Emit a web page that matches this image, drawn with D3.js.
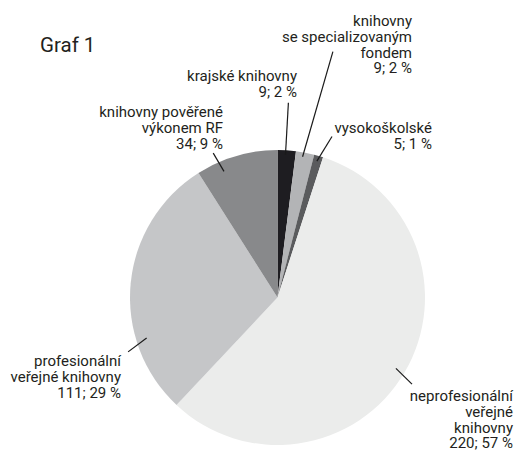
<!DOCTYPE html>
<html>
<head>
<meta charset="utf-8">
<script src="https://cdn.jsdelivr.net/npm/d3@7"></script>
<style>
  body { margin: 0; background: #fff; }
  svg { display: block; font-family: Roboto, "Noto Sans", sans-serif; }
</style>
</head>
<body>
<div id="chart"></div>
<script>
// data, clockwise from 12 o'clock
const categories = [
    "krajské knihovny",
    "knihovny se specializovaným fondem",
    "vysokoškolské",
    "neprofesionální veřejné knihovny",
    "profesionální veřejné knihovny",
    "knihovny pověřené výkonem RF"
];
const counts = [9, 9, 5, 220, 111, 34];
const percents = [2, 2, 1, 57, 29, 9];
const colors = ["#1e1d21", "#b3b4b6", "#5a5b5d", "#ebeceb", "#c5c6c8", "#88898b"];

// label text lines and placement (anchor x, first baseline y, leader line in polar: [deg, r] -> [deg, r])
const labelLines = [
    ["krajské knihovny"],
    ["knihovny", "se specializovaným", "fondem"],
    ["vysokoškolské"],
    ["neprofesionální", "veřejné", "knihovny"],
    ["profesionální", "veřejné knihovny"],
    ["knihovny pověřené", "výkonem RF"]
];
const labelPos = [
    { x: 297, y: 81, leader: [3.2, 143, 3.2, 195] },
    { x: 412, y: 26, leader: [10.1, 143, 12.7, 252] },
    { x: 432, y: 133, leader: [16.1, 142, 18.7, 170] },
    { x: 513, y: 401, leader: [120.9, 138, 122.8, 160] },
    { x: 121, y: 366, leader: [252.8, 137, 250, 159] },
    { x: 223, y: 117, leader: [337, 137, 336, 158] }
];

const width = 517,
    height = 451,
    cx = 277.5,
    cy = 297.5,
    radius = 147.5,
    lineHeight = 15.8;

const data = categories.map((c, i) => ({ name: c, count: counts[i], pct: percents[i], i }));

const arcs = d3.pie().sort(null).value(d => d.pct)(data);
const arc = d3.arc().innerRadius(0).outerRadius(radius);

const svg = d3.select("#chart")
    .append("svg")
    .attr("width", width)
    .attr("height", height);

svg.append("text")
    .attr("x", 40)
    .attr("y", 52)
    .attr("font-size", 20.5)
    .attr("fill", "#231f20")
    .text("Graf 1");

const g = svg.append("g")
    .attr("transform", `translate(${cx},${cy})`);

g.selectAll("path")
    .data(arcs)
    .join("path")
    .attr("fill", d => colors[d.data.i])
    .attr("d", arc);

// polar -> xy, angle in degrees clockwise from top
const polar = (deg, r) => {
    const a = deg * Math.PI / 180;
    return [r * Math.sin(a), -r * Math.cos(a)];
};

g.selectAll("line")
    .data(arcs)
    .join("line")
    .each(function (d) {
        const l = labelPos[d.data.i].leader;
        const p1 = polar(l[0], l[1]), p2 = polar(l[2], l[3]);
        d3.select(this)
            .attr("x1", p1[0]).attr("y1", p1[1])
            .attr("x2", p2[0]).attr("y2", p2[1]);
    })
    .attr("stroke", "#1a1a1a")
    .attr("stroke-width", 1.2);

svg.append("g")
    .attr("font-size", 15)
    .attr("fill", "#231f20")
    .attr("text-anchor", "end")
    .selectAll("text")
    .data(arcs)
    .join("text")
    .attr("transform", d => `translate(${labelPos[d.data.i].x},${labelPos[d.data.i].y})`)
    .selectAll("tspan")
    .data(d => labelLines[d.data.i].concat([`${d.data.count}; ${d.data.pct} %`]))
    .join("tspan")
    .attr("x", 0)
    .attr("y", (d, i) => i * lineHeight)
    .text(d => d);
</script>
</body>
</html>
